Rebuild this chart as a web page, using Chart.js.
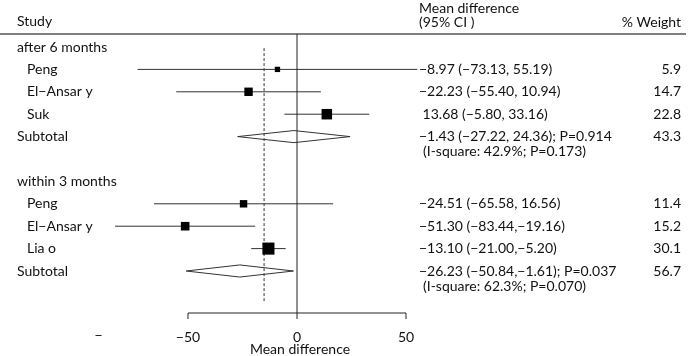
<!DOCTYPE html>
<html>
<head>
<meta charset="utf-8">
<script src="https://cdn.jsdelivr.net/npm/chart.js@4"></script>
<style>
  body { margin: 0; background: #fff; }
  #wrap { width: 688px; height: 356px; }
</style>
</head>
<body>
<div id="wrap"><canvas id="forest" width="688" height="356"></canvas></div>
<script>
// Données du forest plot
const groupLabels = ['after 6 months', 'within 3 months'];
const studyNames = ['Peng', 'El\u2212Ansar y', 'Suk', 'Peng', 'El\u2212Ansar y', 'Lia o'];
const studyGroup = [0, 0, 0, 1, 1, 1];
const meanDiff = [-8.97, -22.23, 13.68, -24.51, -51.30, -13.10];
const ciLow = [-73.13, -55.40, -5.80, -65.58, -83.44, -21.00];
const ciHigh = [55.19, 10.94, 33.16, 16.56, -19.16, -5.20];
const weights = [5.9, 14.7, 22.8, 11.4, 15.2, 30.1];
const ciText = [
  '\u22128.97 (\u221273.13, 55.19)',
  '\u221222.23 (\u221255.40, 10.94)',
  ' 13.68 (\u22125.80, 33.16)',
  '\u221224.51 (\u221265.58, 16.56)',
  '\u221251.30 (\u221283.44,\u221219.16)',
  '\u221213.10 (\u221221.00,\u22125.20)'
];

const subMean = [-1.43, -26.23];
const subLow = [-27.22, -50.84];
const subHigh = [24.36, -1.61];
const subWeight = [43.3, 56.7];
const subText = [
  '\u22121.43 (\u221227.22, 24.36); P=0.914',
  '\u221226.23 (\u221250.84,\u22121.61); P=0.037'
];
const iSquareText = [
  '(I-square: 42.9%; P=0.173)',
  '(I-square: 62.3%; P=0.070)'
];

const overallMean = -15.1;        // ligne pointillée
const xTicks = [-50, 0, 50];
const strayTick = { value: -91, label: '\u2212' };

// --- Mise en page ---
const FONT = '14px Lato';
const TEXT = '#111';
const ROWS_PER_GROUP = 6;

function studyRow(i) {
  const g = studyGroup[i];
  const j = studyGroup.slice(0, i).filter(v => v === g).length;
  return g * ROWS_PER_GROUP + 1 + j;
}
const subRow = g => g * ROWS_PER_GROUP + 4;

const datasets = [];

// Intervalles de confiance
meanDiff.forEach((m, i) => {
  datasets.push({
    type: 'line',
    data: [{ x: ciLow[i], y: studyRow(i) }, { x: ciHigh[i], y: studyRow(i) }],
    borderColor: '#333', borderWidth: 1, pointRadius: 0, order: 2
  });
});

// Losanges des sous-totaux
subMean.forEach((m, g) => {
  const r = subRow(g);
  datasets.push({
    type: 'line',
    data: [
      { x: subLow[g], y: r }, { x: m, y: r - 0.27 },
      { x: subHigh[g], y: r }, { x: m, y: r + 0.27 },
      { x: subLow[g], y: r }
    ],
    borderColor: '#333', borderWidth: 1, pointRadius: 0, fill: false, tension: 0, order: 2
  });
});

// Ligne pointillée de l'effet global
datasets.push({
  type: 'line',
  data: [{ x: overallMean, y: 0.05 }, { x: overallMean, y: 11.35 }],
  borderColor: '#333', borderWidth: 1, borderDash: [3, 2], pointRadius: 0, order: 3
});

// Carrés (taille selon le poids)
datasets.push({
  type: 'scatter',
  data: meanDiff.map((m, i) => ({ x: m, y: studyRow(i) })),
  pointStyle: 'rect',
  pointRadius: weights.map(w => 2.2 * Math.sqrt(w) / Math.SQRT2),
  backgroundColor: '#000', borderColor: '#000', borderWidth: 0, order: 0
});

const textPlugin = {
  id: 'forestText',
  afterDatasetsDraw(chart) {
    const { ctx, scales: { x, y } } = chart;
    const zeroX = x.getPixelForValue(0);
    const axisY = 313;
    ctx.save();

    // règle horizontale sous l'en-tête
    ctx.strokeStyle = '#555';
    ctx.lineWidth = 1.5;
    ctx.beginPath(); ctx.moveTo(0, 34); ctx.lineTo(686, 34); ctx.stroke();

    // ligne du zéro
    ctx.strokeStyle = '#222';
    ctx.lineWidth = 1;
    ctx.beginPath(); ctx.moveTo(zeroX, 34); ctx.lineTo(zeroX, axisY); ctx.stroke();

    // axe x
    const x0 = x.getPixelForValue(xTicks[0]);
    const x1 = x.getPixelForValue(xTicks[xTicks.length - 1]);
    ctx.beginPath(); ctx.moveTo(x0, axisY); ctx.lineTo(x1, axisY); ctx.stroke();
    ctx.font = FONT;
    ctx.fillStyle = TEXT;
    ctx.textAlign = 'center';
    ctx.textBaseline = 'middle';
    xTicks.forEach(t => {
      const px = x.getPixelForValue(t);
      ctx.beginPath(); ctx.moveTo(px, axisY); ctx.lineTo(px, axisY + 6); ctx.stroke();
      ctx.fillText(t < 0 ? '\u2212' + Math.abs(t) : String(t), px, 337);
    });
    ctx.fillText(strayTick.label, x.getPixelForValue(strayTick.value), 335);
    ctx.fillText('Mean difference', zeroX + 3, 349);

    // en-têtes
    ctx.textAlign = 'left';
    ctx.fillText('Study', 17, 21);
    ctx.fillText('Mean difference', 419, 8);
    ctx.fillText('(95% CI )', 419, 22);
    ctx.textAlign = 'right';
    ctx.fillText('% Weight', 681, 22);

    // groupes et sous-totaux
    groupLabels.forEach((lab, g) => {
      ctx.textAlign = 'left';
      ctx.fillText(lab, 17, y.getPixelForValue(g * ROWS_PER_GROUP));
      const sy = y.getPixelForValue(subRow(g));
      ctx.fillText('Subtotal', 17, sy);
      ctx.fillText(subText[g], 419, sy);
      ctx.fillText(iSquareText[g], 423, sy + 15);
      ctx.textAlign = 'right';
      ctx.fillText(subWeight[g].toFixed(1), 681, sy);
    });

    // études
    studyNames.forEach((name, i) => {
      const sy = y.getPixelForValue(studyRow(i));
      ctx.textAlign = 'left';
      ctx.fillText(name, 27, sy);
      ctx.fillText(ciText[i], 419, sy);
      ctx.textAlign = 'right';
      ctx.fillText(weights[i].toFixed(1), 681, sy);
    });

    ctx.restore();
  }
};

// x: pixel 297 = 0, 2.18 px par unité ; y: ligne 0 à 47 px, 22.4 px par ligne
new Chart(document.getElementById('forest').getContext('2d'), {
  type: 'scatter',
  data: { datasets },
  options: {
    responsive: false,
    animation: false,
    layout: { padding: 0, autoPadding: false },
    plugins: { legend: { display: false }, tooltip: { enabled: false } },
    scales: {
      x: { type: 'linear', min: -297 / 2.18, max: (688 - 297) / 2.18, display: false },
      y: { type: 'linear', min: -47 / 22.4, max: (356 - 47) / 22.4, reverse: true, display: false }
    }
  },
  plugins: [textPlugin]
});
</script>
</body>
</html>
